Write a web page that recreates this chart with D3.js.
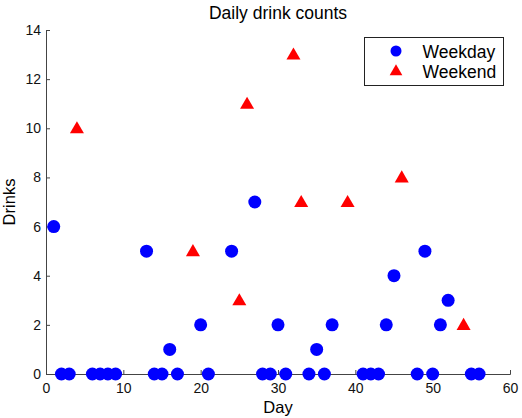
<!DOCTYPE html>
<html>
<head>
<meta charset="utf-8">
<script src="https://cdn.jsdelivr.net/npm/d3@7"></script>
<style>
    body { margin: 0; background: #fff; }
    svg { display: block; font-family: 'Liberation Sans', Arial, sans-serif; }
    .axis path, .axis line { stroke: #444; }
    .axis text { font-size: 14px; fill: #111; }
</style>
</head>
<body>
<svg id="chart"></svg>
<script>
const weekdayDays = [1, 2, 3, 6, 7, 8, 9, 13, 14, 15, 16, 17, 20, 21, 24, 27, 28, 29, 30, 31,
    34, 35, 36, 37, 41, 42, 43, 44, 45, 48, 49, 50, 51, 52, 55, 56]
const weekdayDrinks = [6, 0, 0, 0, 0, 0, 0, 5, 0, 0, 1, 0, 2, 0, 5, 7, 0, 0, 2, 0,
    0, 1, 0, 2, 0, 0, 0, 2, 4, 0, 5, 0, 2, 3, 0, 0]
const weekendDays = [4, 19, 25, 26, 32, 33, 39, 46, 54]
const weekendDrinks = [10, 5, 3, 11, 13, 7, 7, 8, 2]
const xTicks = [0, 10, 20, 30, 40, 50, 60]
const yTicks = [0, 2, 4, 6, 8, 10, 12, 14]
const seriesNames = ['Weekday', 'Weekend']

const width = 522
const height = 418
const padding = { top: 30, right: 12, bottom: 44, left: 46 }

const svg = d3.select('#chart')
    .attr('width', width)
    .attr('height', height)

const x = d3.scaleLinear().domain([0, 60]).range([padding.left, width - padding.right])
const y = d3.scaleLinear().domain([0, 14]).range([height - padding.bottom, padding.top])

// axes, ticks pointing inward like matlab
svg.append('g')
    .attr('class', 'axis')
    .attr('transform', `translate(0,${y(0)})`)
    .call(d3.axisBottom(x).tickValues(xTicks).tickSizeInner(-4).tickSizeOuter(-4).tickPadding(6))
    .call(g => g.selectAll('text').attr('dy', '0.92em'))

svg.append('g')
    .attr('class', 'axis')
    .attr('transform', `translate(${x(0)},0)`)
    .call(d3.axisLeft(y).tickValues(yTicks).tickSizeInner(-4).tickSizeOuter(-4).tickPadding(5))

const triangle = d3.symbol().type(d3.symbolTriangle).size(85)

// weekday circles
svg.append('g')
    .selectAll('circle')
    .data(weekdayDays.map((d, i) => [d, weekdayDrinks[i]]))
    .join('circle')
    .attr('cx', d => x(d[0]))
    .attr('cy', d => y(d[1]))
    .attr('r', 6.5)
    .attr('fill', '#0000ff')

// weekend triangles
svg.append('g')
    .selectAll('path')
    .data(weekendDays.map((d, i) => [d, weekendDrinks[i]]))
    .join('path')
    .attr('d', triangle)
    .attr('transform', d => `translate(${x(d[0])},${y(d[1]) + 1})`)
    .attr('fill', '#ff0000')

// labels
svg.append('text')
    .attr('x', (x(0) + x(60)) / 2)
    .attr('y', 19)
    .attr('text-anchor', 'middle')
    .attr('font-size', 17.5)
    .text('Daily drink counts')

svg.append('text')
    .attr('x', (x(0) + x(60)) / 2)
    .attr('y', 413)
    .attr('text-anchor', 'middle')
    .attr('font-size', 16.5)
    .text('Day')

svg.append('text')
    .attr('transform', `translate(15,${(y(0) + y(14)) / 2}) rotate(-90)`)
    .attr('text-anchor', 'middle')
    .attr('font-size', 16.5)
    .text('Drinks')

// legend
const legend = svg.append('g').attr('transform', 'translate(364.5,37.5)')
legend.append('rect')
    .attr('width', 139)
    .attr('height', 48)
    .attr('fill', '#fff')
    .attr('stroke', '#222')

legend.append('circle')
    .attr('cx', 31.5)
    .attr('cy', 13.5)
    .attr('r', 5.5)
    .attr('fill', '#0000ff')

legend.append('path')
    .attr('d', d3.symbol().type(d3.symbolTriangle).size(70))
    .attr('transform', 'translate(31.5,34)')
    .attr('fill', '#ff0000')

legend.selectAll('text.label')
    .data(seriesNames)
    .join('text')
    .attr('class', 'label')
    .attr('x', 58)
    .attr('y', (d, i) => 20 + i * 20)
    .attr('font-size', 17.5)
    .text(d => d)
</script>
</body>
</html>
